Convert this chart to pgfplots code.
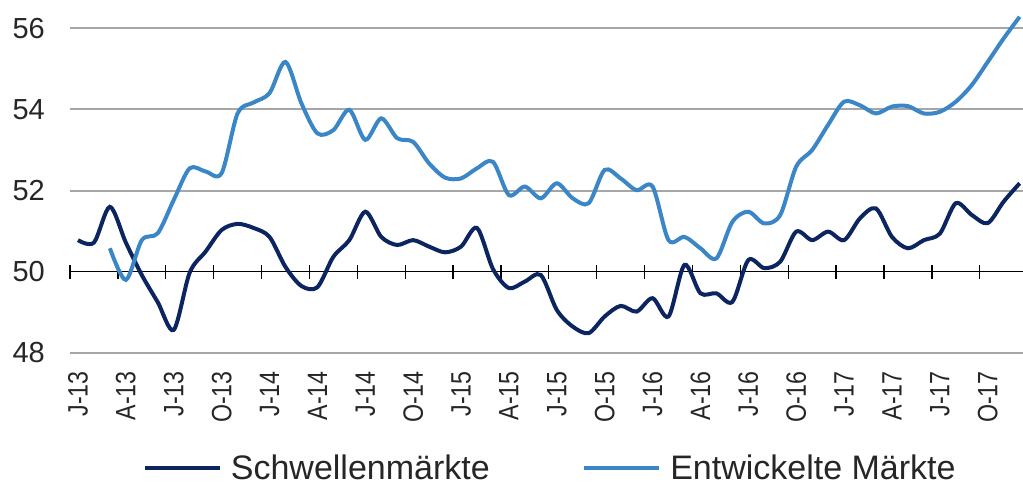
\documentclass[border=0pt]{standalone}
\usepackage{fontspec}
\setmainfont{Liberation Sans}
\usepackage{graphicx}
\usepackage{pgfplots}
\usepackage{pgfplotstable}
\pgfplotsset{compat=1.18}
\definecolor{darkser}{RGB}{12,37,97}
\definecolor{lightser}{RGB}{58,134,199}
\definecolor{gridgray}{RGB}{166,166,166}
\definecolor{labelgray}{RGB}{38,38,38}

\pgfplotstableread{
x y
0 50.78
1 50.72
2 51.60
3 50.72
4 49.92
5 49.25
6 48.57
7 49.98
8 50.50
9 51.03
10 51.18
11 51.08
12 50.86
13 50.12
14 49.65
15 49.62
16 50.37
17 50.78
18 51.48
19 50.86
20 50.66
21 50.78
22 50.62
23 50.48
24 50.62
25 51.08
26 50.07
27 49.60
28 49.76
29 49.92
30 49.06
31 48.65
32 48.49
33 48.90
34 49.16
35 49.02
36 49.35
37 48.90
38 50.17
39 49.47
40 49.47
41 49.26
42 50.29
43 50.09
44 50.25
45 50.99
46 50.78
47 50.99
48 50.78
49 51.32
50 51.56
51 50.86
52 50.58
53 50.78
54 50.94
55 51.69
56 51.40
57 51.20
58 51.73
59 52.18
}\schwellen

\pgfplotstableread{
x y
2 50.58
3 49.80
4 50.78
5 50.95
6 51.77
7 52.55
8 52.47
9 52.43
10 53.90
11 54.17
12 54.40
13 55.17
14 54.15
15 53.41
16 53.49
17 53.99
18 53.25
19 53.78
20 53.29
21 53.20
22 52.67
23 52.32
24 52.30
25 52.55
26 52.71
27 51.89
28 52.10
29 51.81
30 52.18
31 51.81
32 51.69
33 52.51
34 52.30
35 52.01
36 52.10
37 50.78
38 50.86
39 50.58
40 50.33
41 51.23
42 51.48
43 51.19
44 51.40
45 52.59
46 53.00
47 53.62
48 54.19
49 54.10
50 53.90
51 54.07
52 54.08
53 53.90
54 53.94
55 54.19
56 54.60
57 55.17
58 55.75
59 56.28
}\entw

\begin{document}
\begin{tikzpicture}
% axis line at 50 with crossing tick marks
\begin{axis}[
  at={(0pt,0pt)}, anchor=south west,
  scale only axis, width=953pt, height=341.04pt,
  xmin=-0.5, xmax=59.21, ymin=-2, ymax=6.4,
  axis x line=middle, axis y line=none,
  x axis line style={-, black, line width=1.3pt},
  xtick={-0.5,2.5,...,56.5}, xticklabels={},
  major tick length=14pt, tick align=center,
  xtick style={black, line width=1.3pt},
]
\end{axis}
\begin{axis}[
  at={(0pt,0pt)}, anchor=south west,
  scale only axis, width=953pt, height=341.04pt,
  xmin=-0.5, xmax=59.21, ymin=48, ymax=56.4,
  axis line style={draw=none},
  major tick length=0pt,
  ytick={48,52,54,56},
  extra y ticks={50},
  extra y tick style={grid=none},
  ymajorgrids, grid style={gridgray, line width=2pt},
  /pgf/number format/assume math mode=true,
  yticklabel style={font=\fontsize{29}{29}\selectfont, text=labelgray, anchor=east, inner sep=0pt},
  yticklabel shift=25pt,
  xtick={0,3,...,57},
  xticklabels={
    \scalebox{0.83}[1]{J-13},\scalebox{0.83}[1]{A-13},\scalebox{0.83}[1]{J-13},\scalebox{0.83}[1]{O-13},
    \scalebox{0.83}[1]{J-14},\scalebox{0.83}[1]{A-14},\scalebox{0.83}[1]{J-14},\scalebox{0.83}[1]{O-14},
    \scalebox{0.83}[1]{J-15},\scalebox{0.83}[1]{A-15},\scalebox{0.83}[1]{J-15},\scalebox{0.83}[1]{O-15},
    \scalebox{0.83}[1]{J-16},\scalebox{0.83}[1]{A-16},\scalebox{0.83}[1]{J-16},\scalebox{0.83}[1]{O-16},
    \scalebox{0.83}[1]{J-17},\scalebox{0.83}[1]{A-17},\scalebox{0.83}[1]{J-17},\scalebox{0.83}[1]{O-17}},
  xticklabel style={font=\fontsize{28}{28}\selectfont, text=labelgray, rotate=90, anchor=east, inner sep=0pt},
  xticklabel shift=18pt,
  clip=false,
  legend columns=2,
  legend style={draw=none, fill=none, at={(0.5026,-0.3372)}, anchor=center,
    font=\fontsize{34}{34}\selectfont, text=labelgray, inner sep=0pt, outer sep=0pt,
    nodes={inner sep=0pt},
    /tikz/every odd column/.append style={column sep=9pt},
    /tikz/every even column/.append style={column sep=92pt}},
  legend image code/.code={\draw[#1, line width=4.5pt] (0pt,0pt) -- (75pt,0pt);},
]
\addplot[darkser, line width=4pt, smooth, tension=0.5] table[x=x,y=y]{\schwellen};
\addplot[lightser, line width=4pt, smooth, tension=0.5] table[x=x,y=y]{\entw};
\legend{Schwellenmärkte, Entwickelte Märkte}
\end{axis}
\pgfresetboundingbox
\useasboundingbox (-70pt,-132pt) rectangle (953pt,353pt);
\end{tikzpicture}
\end{document}
